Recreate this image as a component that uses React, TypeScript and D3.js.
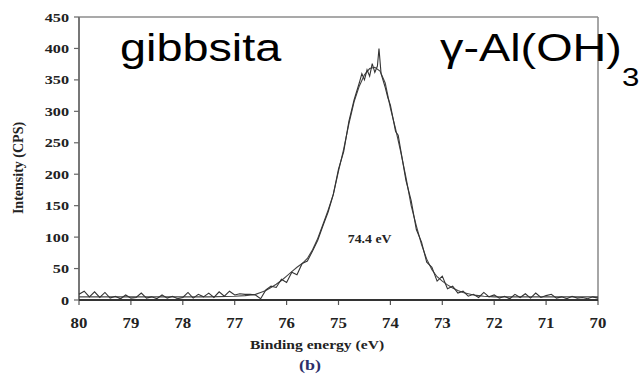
import React from "react";
import * as d3 from "d3";

// Measured spectrum: [binding energy (eV), intensity (CPS)]
const measured: [number, number][] = [
  [80.0, 9], [79.9, 14], [79.8, 5], [79.7, 13], [79.6, 4], [79.5, 12], [79.4, 3], [79.3, 6],
  [79.2, 2], [79.1, 8], [79.0, 3], [78.9, 4], [78.8, 11], [78.7, 3], [78.6, 5], [78.5, 2],
  [78.4, 8], [78.3, 3], [78.2, 6], [78.1, 2], [78.0, 4], [77.9, 12], [77.8, 3], [77.7, 9],
  [77.6, 5], [77.5, 11], [77.4, 4], [77.3, 13], [77.2, 6], [77.1, 14], [77.0, 8], [76.9, 10],
  [76.8, 9], [76.7, 9], [76.6, 8], [76.5, 2], [76.4, 16], [76.3, 22], [76.2, 20], [76.1, 33],
  [76.0, 28], [75.9, 44], [75.8, 40], [75.7, 58], [75.6, 62], [75.5, 78], [75.4, 95],
  [75.3, 118], [75.2, 140], [75.1, 168], [75.0, 208], [74.9, 236], [74.8, 284], [74.7, 318],
  [74.6, 345], [74.55, 360], [74.5, 350], [74.45, 366], [74.4, 356], [74.35, 376], [74.3, 362],
  [74.25, 372], [74.22, 400], [74.18, 360], [74.1, 338], [74.05, 322], [74.0, 310], [73.9, 268],
  [73.85, 262], [73.8, 238], [73.7, 190], [73.6, 158], [73.5, 112], [73.4, 92], [73.3, 60],
  [73.2, 52], [73.1, 30], [73.0, 38], [72.9, 18], [72.8, 22], [72.7, 11], [72.6, 14], [72.5, 6],
  [72.4, 9], [72.3, 4], [72.2, 12], [72.1, 5], [72.0, 8], [71.9, 3], [71.8, 6], [71.7, 2],
  [71.6, 9], [71.5, 4], [71.4, 10], [71.3, 3], [71.2, 11], [71.1, 4], [71.0, 7], [70.9, 9],
  [70.8, 3], [70.7, 5], [70.6, 2], [70.5, 6], [70.4, 3], [70.3, 4], [70.2, 2], [70.1, 5], [70.0, 3],
];

// Fitted peak: [binding energy (eV), intensity (CPS)]
const fitted: [number, number][] = [
  [80.0, 5], [79.0, 5], [78.0, 5], [77.5, 5], [77.0, 6], [76.8, 7], [76.6, 9], [76.5, 12],
  [76.4, 15], [76.3, 20], [76.2, 25], [76.1, 31], [76.0, 38], [75.9, 45], [75.8, 52],
  [75.7, 58], [75.6, 66], [75.5, 80], [75.4, 98], [75.3, 120], [75.2, 143], [75.1, 168],
  [75.0, 205], [74.9, 240], [74.8, 280], [74.7, 315], [74.6, 340], [74.5, 358], [74.4, 368],
  [74.3, 370], [74.2, 364], [74.1, 345], [74.0, 305], [73.9, 272], [73.8, 235], [73.7, 195],
  [73.6, 150], [73.5, 118], [73.4, 88], [73.3, 65], [73.2, 48], [73.1, 37], [73.0, 30],
  [72.9, 24], [72.8, 19], [72.7, 15], [72.6, 12], [72.5, 10], [72.4, 8], [72.3, 7], [72.2, 6],
  [72.0, 5], [71.0, 5], [70.0, 5],
];

const xTicks = [80, 79, 78, 77, 76, 75, 74, 73, 72, 71, 70];
const yTicks = [0, 50, 100, 150, 200, 250, 300, 350, 400, 450];

const serif = "'Liberation Serif', 'Times New Roman', serif";
const sans = "'Liberation Sans', Arial, Helvetica, sans-serif";

function Stretch(props: {
  x: number; y: number; anchor?: string; size: number; weight?: string;
  family: string; fill?: string; sx?: number; children: React.ReactNode;
}) {
  const { x, y, anchor = "start", size, weight = "normal", family, fill = "#111", sx = 1.2 } = props;
  return (
    <g transform={`translate(${x},${y}) scale(${sx},1)`}>
      <text textAnchor={anchor as any} fontSize={size} fontWeight={weight} fontFamily={family} fill={fill}>
        {props.children}
      </text>
    </g>
  );
}

export default function App() {
  const x = d3.scaleLinear().domain([80, 70]).range([79, 598]);
  const y = d3.scaleLinear().domain([0, 450]).range([300, 17]);
  const line = d3.line<[number, number]>().x((d) => x(d[0])).y((d) => y(d[1]));

  return (
    <svg width={642} height={374} style={{ position: "absolute", left: 0, top: 0, background: "#fff" }}>
      <rect width={642} height={374} fill="#fff" />
      {/* frame */}
      <line x1={x(80)} x2={x(70)} y1={y(450)} y2={y(450)} stroke="#555" strokeWidth={1.2} />
      <line x1={x(70)} x2={x(70)} y1={y(450)} y2={y(0)} stroke="#888" strokeWidth={1.5} />
      <line x1={x(80)} x2={x(80)} y1={y(450)} y2={y(0)} stroke="#777" strokeWidth={2} />
      {/* y ticks */}
      {yTicks.map((t) => (
        <g key={"y" + t}>
          <line x1={x(80) - 5} x2={x(80)} y1={y(t)} y2={y(t)} stroke="#666" strokeWidth={1.2} />
          <Stretch x={69} y={y(t) + 4.5} anchor="end" size={13.5} weight="bold" family={serif} fill="#222">
            {t}
          </Stretch>
        </g>
      ))}
      {/* x ticks */}
      {xTicks.map((t) => (
        <g key={"x" + t}>
          <line x1={x(t)} x2={x(t)} y1={y(0)} y2={y(0) + 5} stroke="#555" strokeWidth={1.2} />
          <Stretch x={x(t)} y={328} anchor="middle" size={14} weight="bold" family={serif} fill="#222">
            {t}
          </Stretch>
        </g>
      ))}
      {/* curves */}
      <path d={line(fitted) || ""} fill="none" stroke="#444" strokeWidth={1.1} />
      <path d={line(measured) || ""} fill="none" stroke="#333" strokeWidth={1.1} />
      <line x1={x(80)} x2={x(70)} y1={y(0)} y2={y(0)} stroke="#333" strokeWidth={2} />
      {/* labels */}
      <Stretch x={x(74.4)} y={243} anchor="middle" size={11.5} weight="bold" family={serif} fill="#222">
        74.4 eV
      </Stretch>
      <Stretch x={317} y={349} anchor="middle" size={13} weight="bold" family={serif} fill="#222">
        Binding energy (eV)
      </Stretch>
      <Stretch x={310} y={370} anchor="middle" size={15} weight="bold" family={serif} fill="#2e2e6a">
        (b)
      </Stretch>
      <text
        transform="translate(23,168) rotate(-90)"
        textAnchor="middle"
        fontSize={14}
        fontWeight="bold"
        fontFamily={serif}
        fill="#222"
      >
        Intensity (CPS)
      </text>
      <Stretch x={120} y={61} size={39} family={sans} fill="#000">
        gibbsita
      </Stretch>
      <Stretch x={440} y={61} size={39} family={sans} fill="#000">
        γ-Al(OH)
      </Stretch>
      <Stretch x={622} y={86} size={26} family={sans} fill="#000">
        3
      </Stretch>
    </svg>
  );
}
